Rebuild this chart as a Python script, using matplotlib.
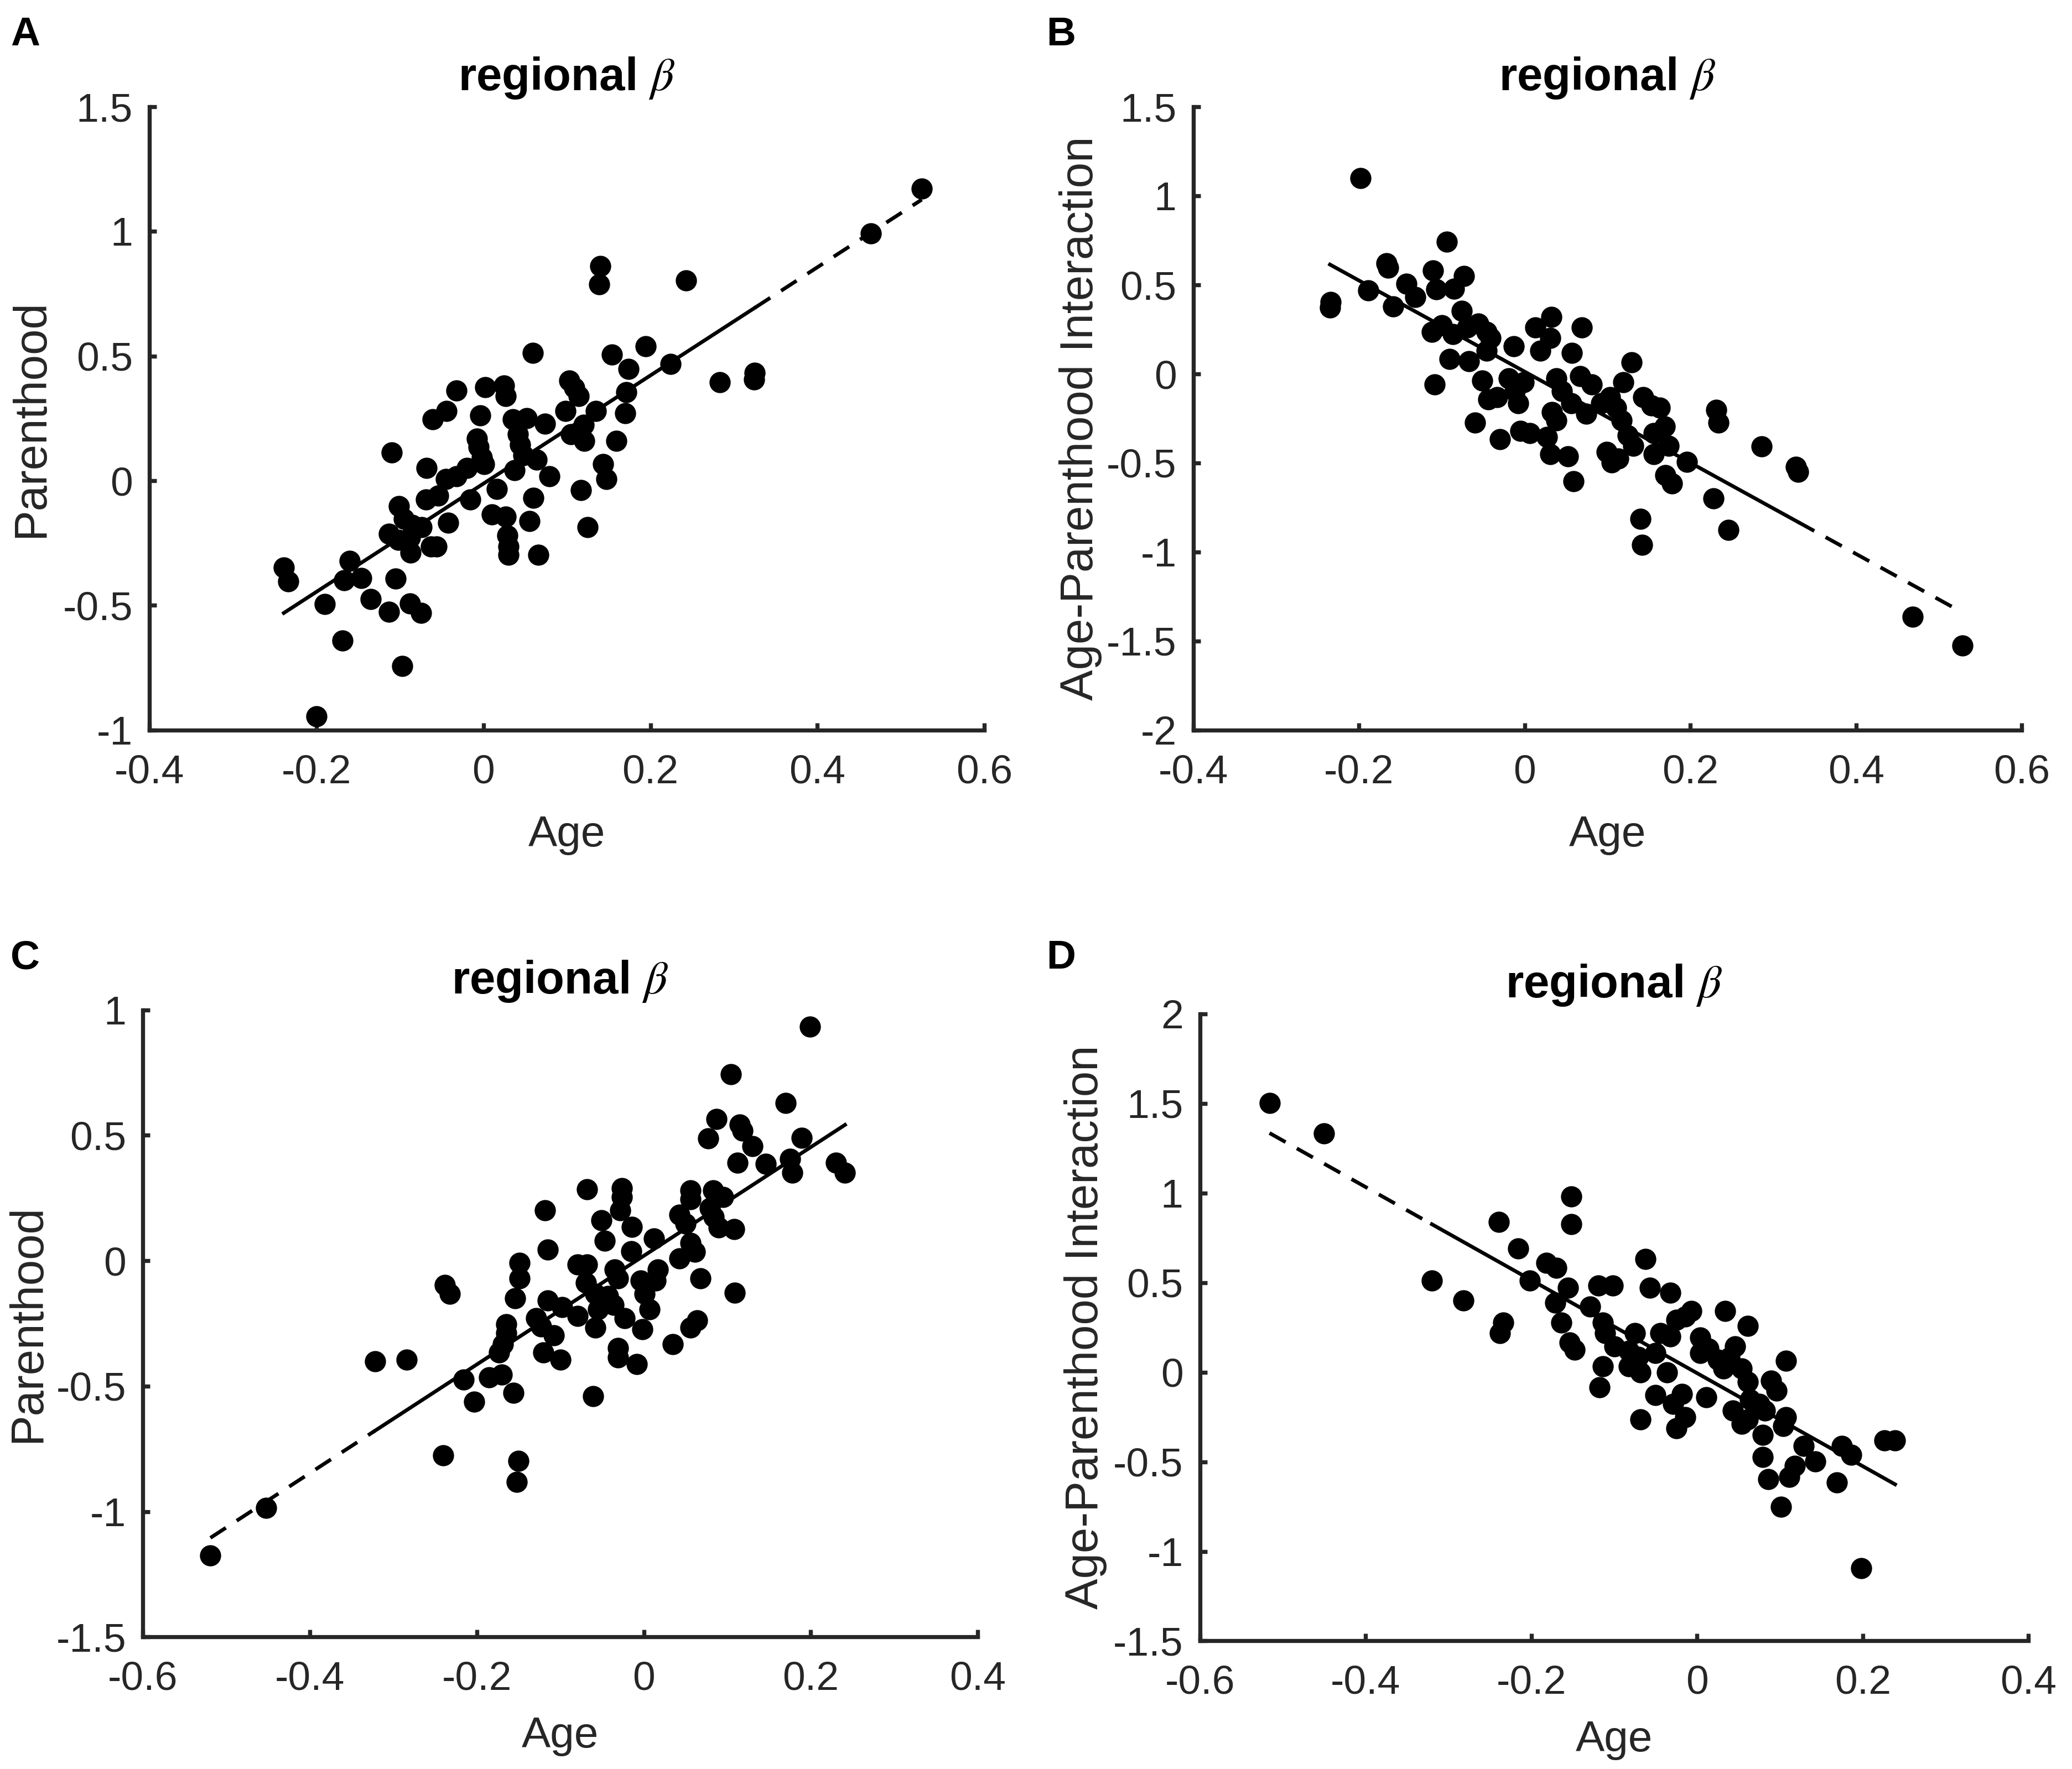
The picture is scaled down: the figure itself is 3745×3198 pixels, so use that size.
"""
Cuatro paneles de dispersion: beta regional vs edad, con recta de ajuste.
La recta va solida donde los datos son densos y punteada donde hay huecos
grandes entre edades consecutivas (los extremos).
"""

import numpy as np
import matplotlib
matplotlib.use("Agg")
import matplotlib.pyplot as plt
from matplotlib import font_manager

# ---- datos ----
a_age = [0.525, 0.464, 0.140, 0.139, 0.243, 0.059, 0.194, 0.154, 0.224, 0.174,
         0.283, 0.325, 0.324, -0.032, 0.002, 0.025, 0.027, 0.103, 0.109, 0.114,
         0.171, -0.044, -0.061, -0.004, 0.035, 0.052, 0.074, 0.098, 0.120, 0.135,
         0.170, 0.105, 0.121, 0.159, -0.008, -0.006, -0.002, 0.001, 0.041, 0.044,
         0.048, 0.064, -0.110, -0.068, -0.045, -0.032, -0.020, 0.037, 0.079, 0.143,
         0.147, 0.016, -0.016, 0.060, 0.117, -0.069, -0.054, -0.101, -0.095, -0.085,
         -0.074, -0.042, 0.010, 0.027, 0.029, 0.030, 0.030, 0.055, 0.066, 0.125,
         -0.113, -0.102, -0.088, -0.087, -0.063, -0.056, -0.160, -0.239, -0.234, -0.167,
         -0.146, -0.105, -0.135, -0.190, -0.113, -0.088, -0.075, -0.169, -0.097, -0.200]
a_parent = [1.173, 0.992, 0.861, 0.788, 0.803, 0.512, 0.539, 0.507, 0.469, 0.449,
            0.395, 0.432, 0.407, 0.361, 0.376, 0.381, 0.339, 0.402, 0.373, 0.339,
            0.356, 0.280, 0.246, 0.263, 0.246, 0.251, 0.229, 0.280, 0.224, 0.280,
            0.271, 0.186, 0.161, 0.161, 0.169, 0.136, 0.093, 0.068, 0.186, 0.144,
            0.102, 0.085, 0.114, 0.051, 0.008, 0.017, 0.051, 0.042, 0.017, 0.068,
            0.008, -0.034, -0.076, -0.068, -0.037, -0.076, -0.059, -0.102, -0.153, -0.178,
            -0.186, -0.169, -0.136, -0.144, -0.220, -0.263, -0.297, -0.161, -0.297, -0.186,
            -0.212, -0.237, -0.229, -0.288, -0.263, -0.263, -0.322, -0.347, -0.403, -0.398,
            -0.390, -0.393, -0.475, -0.495, -0.525, -0.492, -0.529, -0.641, -0.742, -0.944]

b_age = [-0.198, -0.094, -0.167, -0.165, -0.234, -0.235, -0.189, -0.143, -0.132, -0.159,
         -0.111, -0.107, -0.085, -0.073, -0.076, -0.112, -0.100, -0.087, -0.069, -0.056,
         -0.046, -0.041, -0.091, -0.067, -0.046, -0.013, -0.109, -0.051, -0.044, -0.033,
         -0.060, -0.030, -0.019, -0.012, -0.008, -0.001, -0.005, 0.006, 0.013, 0.032,
         0.031, 0.019, 0.057, 0.069, 0.038, 0.045, 0.033, 0.038, 0.027, 0.031,
         0.052, 0.059, 0.067, 0.081, 0.056, 0.074, 0.092, 0.103, 0.110, 0.117,
         0.119, 0.129, 0.124, 0.131, 0.099, 0.105, 0.113, 0.143, 0.153, 0.163,
         0.156, 0.169, 0.156, 0.174, 0.196, 0.170, 0.178, 0.140, 0.142, 0.231,
         0.234, 0.228, 0.246, 0.286, 0.327, 0.330, 0.468, 0.528]
b_inter = [1.100, 0.742, 0.621, 0.597, 0.403, 0.372, 0.469, 0.505, 0.431, 0.379,
           0.581, 0.474, 0.479, 0.550, 0.355, 0.237, 0.273, 0.225, 0.261, 0.284,
           0.237, 0.201, 0.083, 0.071, 0.130, 0.154, -0.059, -0.036, -0.142, -0.130,
           -0.273, -0.367, -0.024, -0.095, -0.166, -0.047, -0.320, -0.332, 0.261, 0.320,
           0.201, 0.130, 0.118, 0.261, -0.024, -0.095, -0.213, -0.261, -0.355, -0.450,
           -0.462, -0.604, -0.012, -0.059, -0.166, -0.225, -0.166, -0.130, -0.190, -0.261,
           -0.047, 0.066, -0.344, -0.403, -0.438, -0.498, -0.474, -0.130, -0.178, -0.190,
           -0.332, -0.296, -0.450, -0.403, -0.493, -0.569, -0.616, -0.813, -0.960, -0.201,
           -0.273, -0.699, -0.877, -0.408, -0.521, -0.550, -1.363, -1.524]

c_age = [0.199, 0.104, 0.170, 0.087, 0.115, 0.118, 0.077, 0.189, 0.130, 0.112,
         0.146, 0.175, 0.178, 0.230, 0.241, -0.068, -0.026, -0.026, 0.056, 0.083,
         0.095, 0.056, 0.079, 0.084, 0.108, 0.090, -0.118, -0.028, -0.051, -0.014,
         0.043, 0.050, -0.047, 0.012, -0.015, -0.115, 0.056, 0.061, 0.043, -0.149,
         -0.079, -0.068, -0.035, -0.031, 0.017, -0.004, 0.014, 0.068, 0.001, 0.007,
         -0.238, -0.232, -0.149, -0.154, 0.109, -0.069, -0.058, -0.043, -0.115, -0.098,
         -0.079, -0.055, -0.036, -0.023, -0.129, -0.123, -0.165, -0.165, -0.108, -0.058,
         -0.002, 0.064, 0.056, -0.169, -0.173, -0.120, -0.100, -0.031, -0.031, -0.008,
         0.035, -0.322, -0.284, -0.216, -0.185, -0.170, -0.203, -0.156, -0.061, -0.240,
         -0.150, -0.152, -0.452, -0.519]
c_parent = [0.933, 0.744, 0.628, 0.565, 0.544, 0.518, 0.488, 0.491, 0.456, 0.391,
            0.386, 0.407, 0.351, 0.391, 0.351, 0.286, 0.289, 0.254, 0.281, 0.281,
            0.254, 0.246, 0.211, 0.175, 0.126, 0.132, 0.202, 0.202, 0.161, 0.135,
            0.184, 0.149, 0.079, 0.088, 0.039, 0.044, 0.070, 0.035, 0.009, -0.009,
            -0.014, -0.014, -0.035, -0.070, -0.035, -0.079, -0.079, -0.070, -0.132, -0.193,
            -0.096, -0.132, -0.070, -0.149, -0.128, -0.088, -0.132, -0.140, -0.158, -0.184,
            -0.219, -0.193, -0.175, -0.228, -0.228, -0.263, -0.254, -0.289, -0.298, -0.267,
            -0.272, -0.237, -0.267, -0.333, -0.365, -0.365, -0.395, -0.347, -0.386, -0.412,
            -0.333, -0.400, -0.395, -0.474, -0.465, -0.453, -0.561, -0.526, -0.539, -0.775,
            -0.798, -0.881, -0.986, -1.175]

d_age = [-0.516, -0.450, -0.152, -0.152, -0.239, -0.216, -0.062, -0.182, -0.170, -0.320,
         -0.202, -0.156, -0.119, -0.102, -0.057, -0.032, -0.282, -0.171, -0.129, 0.034,
         -0.007, -0.014, -0.025, 0.061, -0.164, -0.234, -0.238, -0.114, -0.111, -0.075,
         -0.044, 0.004, -0.032, -0.154, -0.148, -0.100, -0.082, -0.050, 0.046, 0.014,
         -0.071, 0.004, 0.025, 0.039, 0.107, -0.114, -0.082, -0.068, -0.036, 0.032,
         0.054, 0.061, 0.089, -0.118, -0.050, -0.018, 0.011, 0.096, 0.064, 0.075,
         -0.029, 0.043, 0.082, 0.061, -0.068, -0.014, -0.025, 0.054, 0.107, 0.104,
         0.079, 0.129, 0.175, 0.186, 0.226, 0.239, 0.079, 0.143, 0.118, 0.111,
         0.086, 0.169, 0.101, 0.198]
d_inter = [1.502, 1.333, 0.980, 0.825, 0.837, 0.690, 0.631, 0.611, 0.581, 0.512,
           0.512, 0.470, 0.483, 0.483, 0.470, 0.443, 0.401, 0.389, 0.365, 0.340,
           0.340, 0.310, 0.291, 0.259, 0.278, 0.278, 0.217, 0.278, 0.217, 0.217,
           0.217, 0.192, 0.200, 0.167, 0.126, 0.143, 0.118, 0.106, 0.143, 0.131,
           0.086, 0.106, 0.069, 0.081, 0.064, 0.032, 0.032, 0.000, 0.000, 0.020,
           0.020, -0.054, -0.047, -0.086, -0.128, -0.121, -0.140, -0.103, -0.153, -0.177,
           -0.177, -0.214, -0.214, -0.264, -0.264, -0.251, -0.313, -0.288, -0.251, -0.300,
           -0.350, -0.411, -0.411, -0.461, -0.382, -0.382, -0.473, -0.498, -0.522, -0.584,
           -0.596, -0.616, -0.751, -1.094]

panel_letters = ["A", "B", "C", "D"]
y_labels = ["Parenthood", "Age-Parenthood Interaction",
            "Parenthood", "Age-Parenthood Interaction"]
x_limits = [(-0.4, 0.6), (-0.4, 0.6), (-0.6, 0.4), (-0.6, 0.4)]
y_limits = [(-1, 1.5), (-2, 1.5), (-1.5, 1), (-1.5, 2)]

# ---- estilo ----
ttf_names = {f.name for f in font_manager.fontManager.ttflist}
TICK_FONT = "Liberation Sans Narrow" if "Liberation Sans Narrow" in ttf_names else "Liberation Sans"
plt.rcParams["font.family"] = ["Liberation Sans", "DejaVu Sans"]
plt.rcParams["mathtext.fontset"] = "stix"
plt.rcParams["axes.unicode_minus"] = False

AX_COLOR = "#262626"
GAP = 0.05          # hueco en edad a partir del cual la recta va punteada
rects = [
    [0.0721, 0.5873, 0.4030, 0.3523],
    [0.5759, 0.5873, 0.3999, 0.3523],
    [0.0689, 0.0746, 0.4030, 0.3545],
    [0.5791, 0.0724, 0.3999, 0.3545],
]
letter_pos = [(0.005, 0.991), (0.505, 0.991), (0.005, 0.469), (0.505, 0.469)]
xlabel_off = [-0.136, -0.136, -0.126, -0.126]
ylabel_off = [-0.116, -0.110, -0.112, -0.112]

data = [(a_age, a_parent), (b_age, b_inter), (c_age, c_parent), (d_age, d_inter)]

fig = plt.figure(figsize=(3745 / 240, 3198 / 240), dpi=240)

for i, (x, y) in enumerate(data):
    x = np.asarray(x)
    y = np.asarray(y)
    ax = fig.add_axes(rects[i])

    ax.plot(x, y, "o", color="black", markersize=10.5, zorder=3)

    # recta de minimos cuadrados, por tramos segun densidad de datos
    coef = np.polyfit(x, y, 1)
    xs = np.sort(x)
    sparse = np.diff(xs) > GAP
    start = 0
    for k in range(1, len(sparse) + 1):
        if k == len(sparse) or sparse[k] != sparse[start]:
            seg = xs[start:k + 1]
            ls = (0, (5, 3.5)) if sparse[start] else "-"
            ax.plot(seg, np.polyval(coef, seg), color="black", lw=2.0,
                    linestyle=ls, zorder=4)
            start = k

    ax.set_xlim(*x_limits[i])
    ax.set_ylim(*y_limits[i])
    ax.set_xticks(np.round(np.arange(x_limits[i][0], x_limits[i][1] + 1e-9, 0.2), 1))
    ax.set_yticks(np.arange(y_limits[i][0], y_limits[i][1] + 1e-9, 0.5))
    ax.xaxis.set_major_formatter(matplotlib.ticker.FormatStrFormatter("%g"))
    ax.yaxis.set_major_formatter(matplotlib.ticker.FormatStrFormatter("%g"))

    for s in ("top", "right"):
        ax.spines[s].set_visible(False)
    for s in ("left", "bottom"):
        ax.spines[s].set_linewidth(2.2)
        ax.spines[s].set_color(AX_COLOR)
        ax.spines[s].set_capstyle("projecting")
    ax.tick_params(direction="in", length=4, width=2.2, color=AX_COLOR,
                   labelcolor=AX_COLOR, labelsize=22)
    ax.tick_params(axis="x", pad=13)
    ax.tick_params(axis="y", pad=9)
    for lab in ax.get_xticklabels() + ax.get_yticklabels():
        lab.set_fontfamily(TICK_FONT)

    ax.set_title(r"regional $\mathit{\beta}$", fontsize=25, fontweight="bold", pad=9)
    ax.set_xlabel("Age", fontsize=23.5, color=AX_COLOR)
    ax.set_ylabel(y_labels[i], fontsize=25, color=AX_COLOR)
    ax.xaxis.set_label_coords(0.5, xlabel_off[i])
    ax.yaxis.set_label_coords(ylabel_off[i], 0.5)

    fig.text(letter_pos[i][0], letter_pos[i][1], panel_letters[i], fontsize=22,
             fontweight="bold", ha="left", va="top")

fig.savefig("out.png", dpi=240)
